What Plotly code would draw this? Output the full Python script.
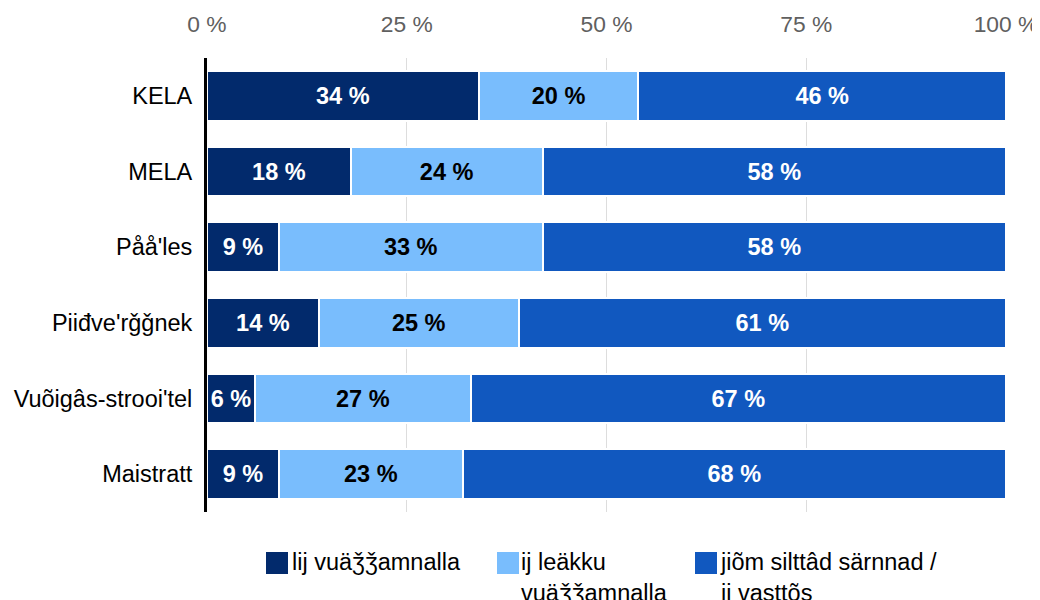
import plotly.graph_objects as go

categories = ["KELA", "MELA", "Påå'les", "Piiđve'rǧǧnek", "Vuõigâs-strooi'tel", "Maistratt"]
series_names = ["lij vuäǯǯamnalla", "ij leäkku<br>vuäǯǯamnalla", "jiõm silttâd särnnad /<br>ij vasttõs"]
v_yes = [34, 18, 9, 14, 6, 9]
v_no = [20, 24, 33, 25, 27, 23]
v_dk = [46, 58, 58, 61, 67, 68]
colors = ["#022a6c", "#79bdfd", "#1158bf"]
text_colors = ["white", "black", "white"]
tick_vals = [0, 25, 50, 75, 100]
tick_text = ["0 %", "25 %", "50 %", "75 %", "100 %"]

FONT = "Liberation Sans, Arial, sans-serif"
OFF = 8  # page body margin offsets the figure by 8 px
W, H = 1040 - OFF, 600 - OFF
ML, MR, MT, MB = 207 - OFF, 34, 58 - OFF, 88
PW, PH = W - ML - MR, H - MT - MB


def px_x(p):
    return (p - OFF - ML) / PW


def px_y(p):
    return (H - MB - (p - OFF)) / PH


fig = go.Figure()
for name, vals, c, tc in zip(series_names, [v_yes, v_no, v_dk], colors, text_colors):
    fig.add_trace(go.Bar(
        y=categories, x=vals, orientation="h", name=name,
        marker=dict(color=c, line=dict(color="white", width=2)),
        text=[f"<b>{v} %</b>" for v in vals], texttemplate="%{text}",
        textposition="inside", insidetextanchor="middle", textangle=0,
        textfont=dict(color=tc, size=23.5, family=FONT),
        showlegend=False, hoverinfo="skip",
    ))

# legend drawn manually (large square swatches, wrapped text)
legend_sq_x = [266, 497, 695]
legend_txt_x = [290, 519, 718]
shapes = []
annotations = []
for name, c, sx, tx in zip(series_names, colors, legend_sq_x, legend_txt_x):
    shapes.append(dict(type="rect", xref="paper", yref="paper",
                       x0=px_x(sx), x1=px_x(sx + 22), y0=px_y(552), y1=px_y(574),
                       fillcolor=c, line=dict(width=0)))
    annotations.append(dict(xref="paper", yref="paper", x=px_x(tx), y=px_y(547),
                            xanchor="left", yanchor="top", align="left", showarrow=False,
                            text=name, font=dict(size=23.5, color="black", family=FONT)))

fig.update_layout(
    barmode="stack", bargap=0.34,
    width=W, height=H,
    margin=dict(l=ML, r=MR, t=MT, b=MB, autoexpand=False),
    plot_bgcolor="white", paper_bgcolor="white",
    font=dict(family=FONT, size=24, color="black"),
    uniformtext=dict(minsize=20, mode="show"),
    showlegend=False,
    shapes=shapes, annotations=annotations,
)
fig.update_xaxes(side="top", range=[0, 100], tickvals=tick_vals, ticktext=tick_text,
                 showgrid=True, gridcolor="#dddddd", gridwidth=1, zeroline=False,
                 tickfont=dict(size=22.8, color="#606060"), ticklabelstandoff=20,
                 automargin=False, fixedrange=True)
fig.update_yaxes(autorange="reversed", showline=True, linecolor="black", linewidth=3,
                 tickfont=dict(size=23.5, color="black"), ticklabelstandoff=7,
                 showgrid=False, automargin=False)

fig.write_html("out.html")
